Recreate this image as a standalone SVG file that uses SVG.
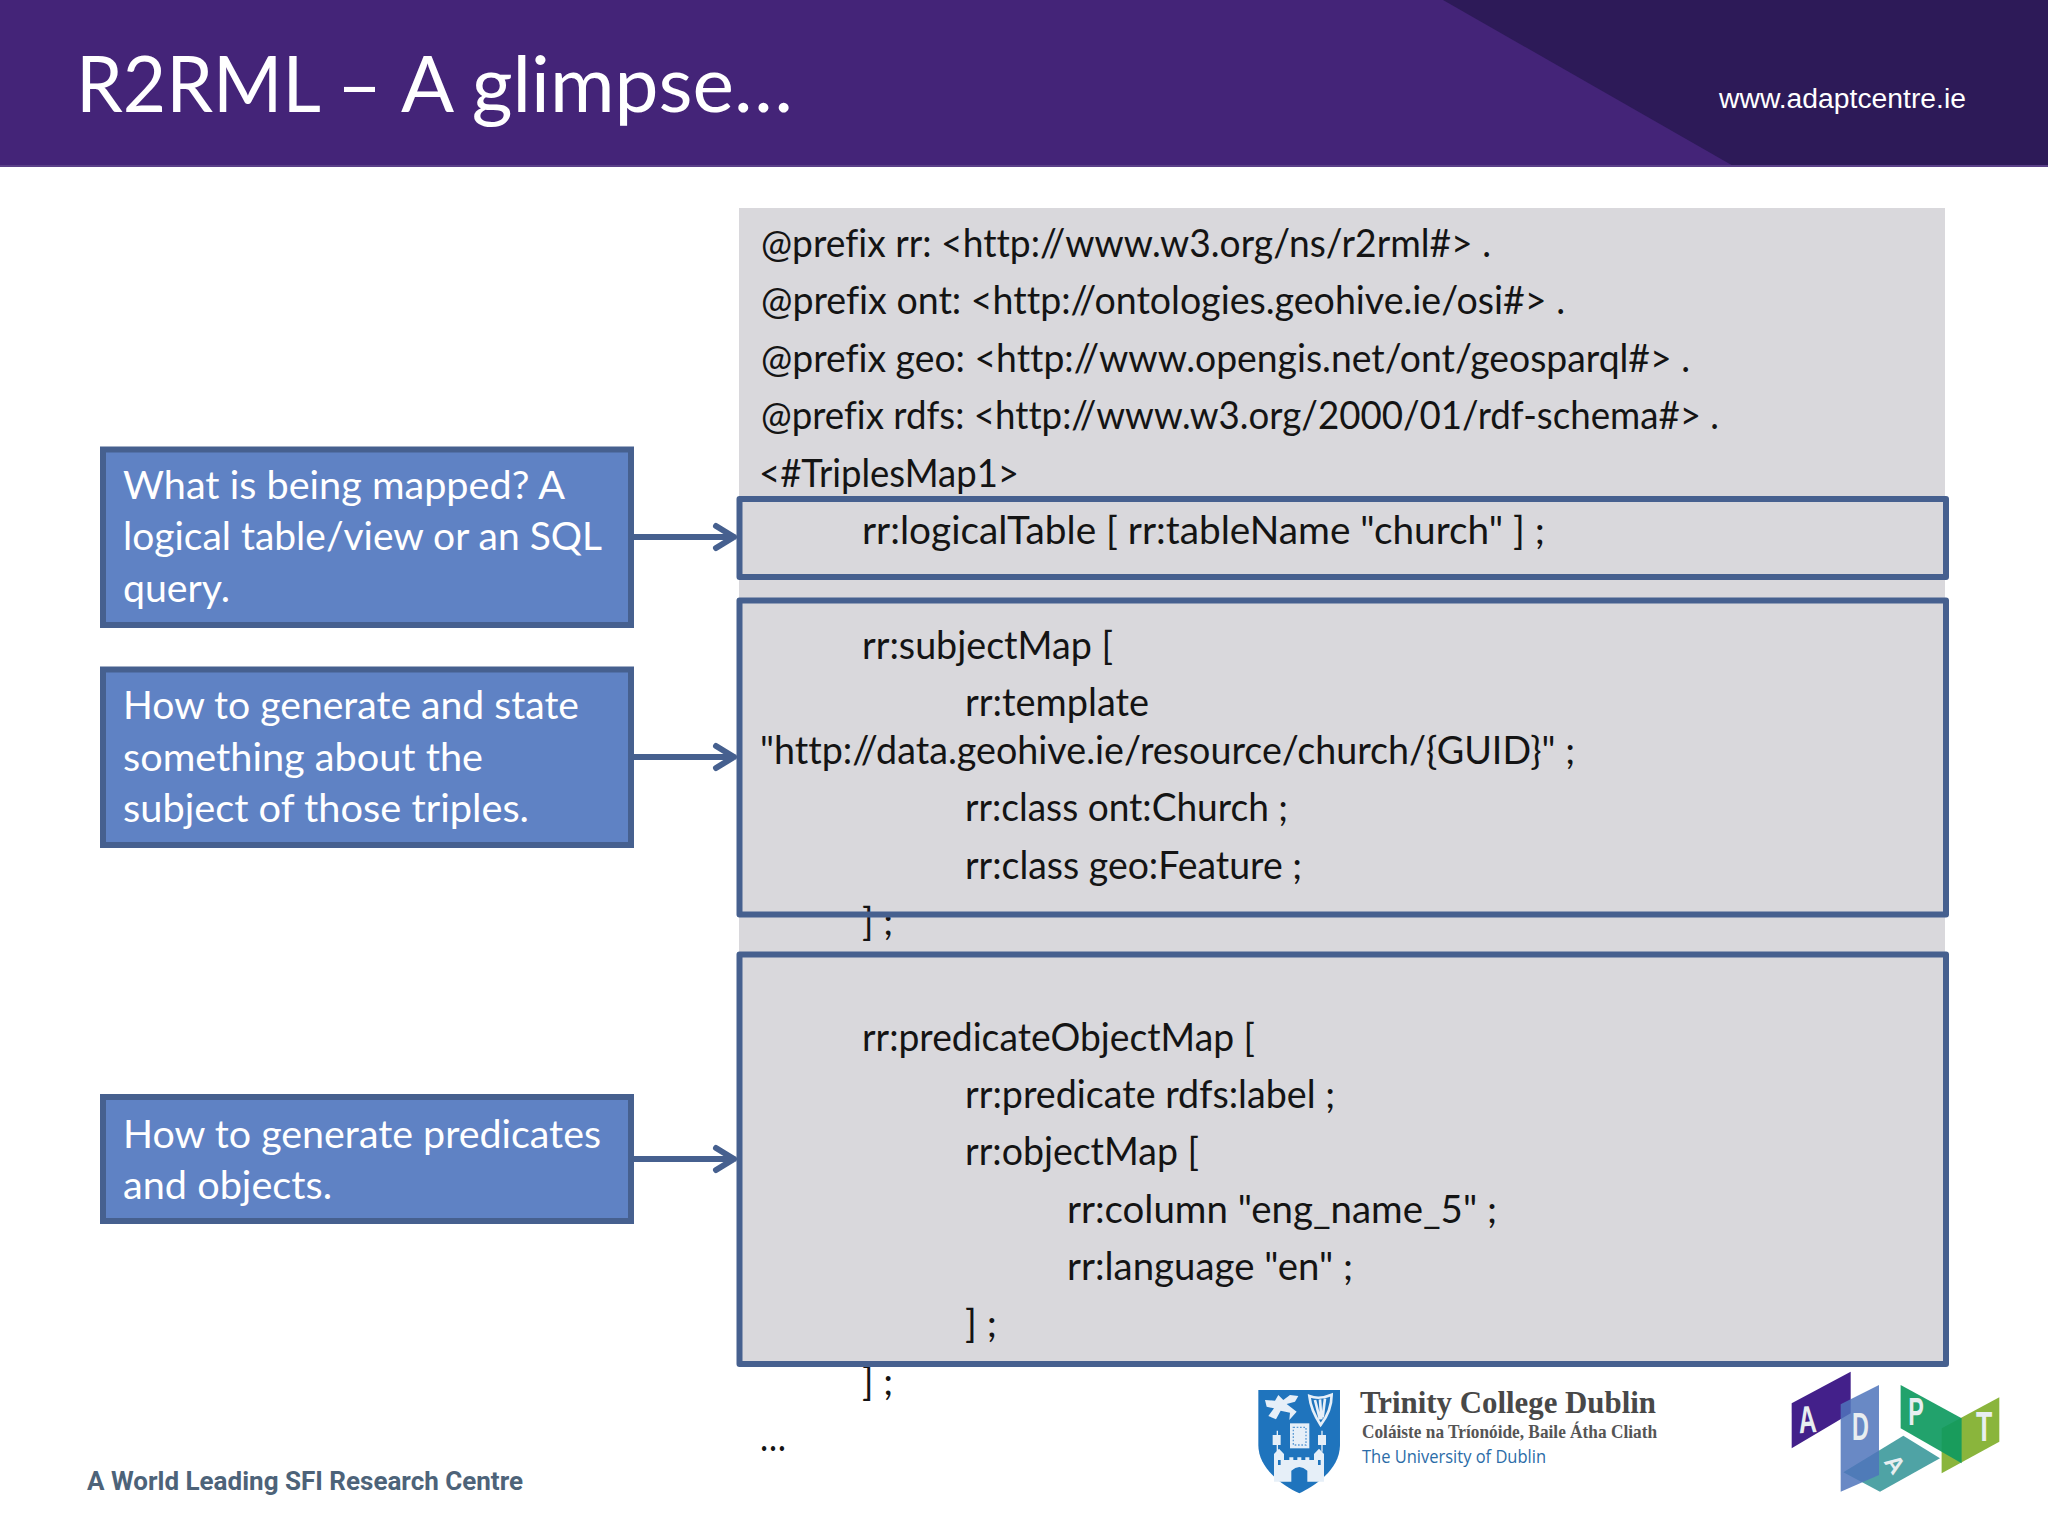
<svg xmlns="http://www.w3.org/2000/svg" width="2048" height="1536" viewBox="0 0 2048 1536">
<style>
text{font-family:"Lato","Carlito","Liberation Sans",sans-serif;font-variant-ligatures:none}
.c{font-size:39px;fill:#141414}
.b{font-size:38px;fill:#fff}
.box{fill:#5f82c4;stroke:#46608f;stroke-width:6}
.hl{fill:none;stroke:#46608f;stroke-width:6;stroke-linejoin:round}
.ar{fill:none;stroke:#46608f;stroke-width:6;stroke-linecap:round;stroke-linejoin:round}
.lg{font-family:"Liberation Sans",sans-serif;font-weight:700;fill:#e8eef0}
.w{fill:#e6eff8}
.ws{fill:none;stroke:#e6eff8}
</style>
<rect width="2048" height="1536" fill="#fff"/>
<g id="header">
<rect width="2048" height="167" fill="#442478"/>
<polygon points="1443,0 2048,0 2048,167 1735,167" fill="#2d1a58"/>
<rect y="165" width="2048" height="2" fill="#5a4088"/>
<text y="112" font-size="78" fill="#fff"><tspan x="76" textLength="245" lengthAdjust="spacingAndGlyphs">R2RML</tspan><tspan x="337" textLength="45" lengthAdjust="spacingAndGlyphs">–</tspan><tspan x="401" textLength="392" lengthAdjust="spacingAndGlyphs">A glimpse…</tspan></text>
<text x="1719" y="108" style="font-family:'Liberation Sans',sans-serif" font-size="27" fill="#fff" textLength="247" lengthAdjust="spacingAndGlyphs">www.adaptcentre.ie</text>
</g>
<g id="code">
<rect x="739" y="208" width="1206" height="1155" fill="#d9d8dc"/>
<text class="c" x="761" y="257" textLength="730" lengthAdjust="spacingAndGlyphs">@prefix rr: &lt;http://www.w3.org/ns/r2rml#&gt; .</text>
<text class="c" x="761" y="314" textLength="804" lengthAdjust="spacingAndGlyphs">@prefix ont: &lt;http://ontologies.geohive.ie/osi#&gt; .</text>
<text class="c" x="761" y="372" textLength="929" lengthAdjust="spacingAndGlyphs">@prefix geo: &lt;http://www.opengis.net/ont/geosparql#&gt; .</text>
<text class="c" x="761" y="429" textLength="958" lengthAdjust="spacingAndGlyphs">@prefix rdfs: &lt;http://www.w3.org/2000/01/rdf-schema#&gt; .</text>
<text class="c" x="759" y="487" textLength="260" lengthAdjust="spacingAndGlyphs">&lt;#TriplesMap1&gt;</text>
<text class="c" x="862" y="544" textLength="683" lengthAdjust="spacingAndGlyphs">rr:logicalTable [ rr:tableName "church"  ] ;</text>
<text class="c" x="862" y="659" textLength="251" lengthAdjust="spacingAndGlyphs">rr:subjectMap [</text>
<text class="c" x="965" y="716" textLength="184" lengthAdjust="spacingAndGlyphs">rr:template</text>
<text class="c" x="760" y="764" textLength="815" lengthAdjust="spacingAndGlyphs">"http://data.geohive.ie/resource/church/{GUID}" ;</text>
<text class="c" x="965" y="821" textLength="323" lengthAdjust="spacingAndGlyphs">rr:class ont:Church ;</text>
<text class="c" x="965" y="879" textLength="337" lengthAdjust="spacingAndGlyphs">rr:class geo:Feature ;</text>
<text class="c" x="862" y="935" textLength="31" lengthAdjust="spacingAndGlyphs">] ;</text>
<text class="c" x="862" y="1051" textLength="393" lengthAdjust="spacingAndGlyphs">rr:predicateObjectMap [</text>
<text class="c" x="965" y="1108" textLength="370" lengthAdjust="spacingAndGlyphs">rr:predicate rdfs:label ;</text>
<text class="c" x="965" y="1165" textLength="234" lengthAdjust="spacingAndGlyphs">rr:objectMap [</text>
<text class="c" x="1067" y="1223" textLength="430" lengthAdjust="spacingAndGlyphs">rr:column "eng_name_5" ;</text>
<text class="c" x="1067" y="1280" textLength="286" lengthAdjust="spacingAndGlyphs">rr:language "en" ;</text>
<text class="c" x="965" y="1337" textLength="32" lengthAdjust="spacingAndGlyphs">] ;</text>
<text class="c" x="862" y="1395" textLength="31" lengthAdjust="spacingAndGlyphs">] ;</text>
<text class="c" x="760" y="1451" textLength="26" lengthAdjust="spacingAndGlyphs">…</text>
</g>
<g id="highlight-logical-table"><rect class="hl" x="739.5" y="499" width="1206.5" height="78"/></g>
<g id="highlight-subject-map"><rect class="hl" x="739.5" y="600.5" width="1206.5" height="314"/></g>
<g id="highlight-predicate-object-map"><rect class="hl" x="739.5" y="954.5" width="1206.5" height="409.5"/></g>
<g id="node-what">
<rect class="box" x="103" y="449.5" width="528" height="175.5"/>
<text class="b" x="123" y="499" textLength="442" lengthAdjust="spacingAndGlyphs">What is being mapped? A</text>
<text class="b" x="123" y="550" textLength="479" lengthAdjust="spacingAndGlyphs">logical table/view or an SQL</text>
<text class="b" x="123" y="602" textLength="107" lengthAdjust="spacingAndGlyphs">query.</text>
</g>
<g id="node-subject">
<rect class="box" x="103" y="669.5" width="528" height="175.5"/>
<text class="b" x="123" y="719" textLength="456" lengthAdjust="spacingAndGlyphs">How to generate and state</text>
<text class="b" x="123" y="771" textLength="360" lengthAdjust="spacingAndGlyphs">something about the</text>
<text class="b" x="123" y="822" textLength="406" lengthAdjust="spacingAndGlyphs">subject of those triples.</text>
</g>
<g id="node-predicate">
<rect class="box" x="103" y="1097" width="528" height="124"/>
<text class="b" x="123" y="1148" textLength="478" lengthAdjust="spacingAndGlyphs">How to generate predicates</text>
<text class="b" x="123" y="1199" textLength="209" lengthAdjust="spacingAndGlyphs">and objects.</text>
</g>
<g id="connectors">
<path class="ar" d="M634 537H734M716 526L734 537L716 548"/>
<path class="ar" d="M634 757H734M716 746L734 757L716 768"/>
<path class="ar" d="M634 1159H734M716 1148L734 1159L716 1170"/>
</g>
<g id="footer">
<text x="87" y="1490" style="font-family:Roboto,sans-serif;font-weight:700" font-size="25" fill="#4d6379" textLength="436" lengthAdjust="spacingAndGlyphs">A World Leading SFI Research Centre</text>
</g>
<g id="tcd-logo">
<g transform="translate(1250 1380) scale(.3333)">
<path d="M25 30H270V195C270 270 190 320 148 340C105 320 25 270 25 195Z" fill="#1f74bd"/>
<path class="w" d="M45 60L75 62L85 45L100 60L120 45L145 48L135 65L110 72L140 95L118 120L120 98L92 92L78 118L55 108L72 85L50 80Z"/>
<path class="ws" stroke-width="8" d="M178 48Q208 60 245 44Q245 92 212 135Q182 90 178 48ZM195 60L210 118M210 58L214 118M225 56L218 112"/>
<path class="w" d="M120 130H178V205H120Z"/>
<path d="M130 142H168V195H130Z" fill="none" stroke="#5c9bd4" stroke-width="4" stroke-dasharray="5 5"/>
<path class="w" d="M68 165H92V195H68ZM204 165H228V195H204Z"/>
<path class="ws" stroke-width="4" d="M82 152V215M216 152V215"/>
<path class="w" d="M72 222L87 206L102 222V240H118V232H130V240H142V232H154V240H166V232H178V240H192V222L207 206L222 222V305H172V272Q148 250 124 272V305H72Z"/>
<path d="M84 240H92V255H84ZM204 240H212V255H204Z" fill="#1f74bd"/>
</g>
<text x="1360" y="1413" style="font-family:'Liberation Serif',serif;font-weight:700" font-size="31" fill="#484848" textLength="296" lengthAdjust="spacingAndGlyphs">Trinity College Dublin</text>
<text x="1362" y="1438" style="font-family:'Liberation Serif',serif;font-weight:700" font-size="19" fill="#555" textLength="295" lengthAdjust="spacingAndGlyphs">Coláiste na Tríonóide, Baile Átha Cliath</text>
<text x="1362" y="1463" style="font-family:'Open Sans',sans-serif" font-size="18" fill="#2b6ca8" textLength="184" lengthAdjust="spacingAndGlyphs">The University of Dublin</text>
</g>
<g id="adapt-logo" transform="translate(1780 1365) scale(.3333)">
<polygon points="35,115 212,20 212,145 35,250" fill="#43208a"/>
<polygon points="190,322 370,212 480,280 300,380" fill="#4fa3a5"/>
<polygon points="182,118 297,60 297,330 182,380" fill="#4f74bb" opacity=".85"/>
<polygon points="485,190 658,97 658,230 485,325" fill="#8ab53c"/>
<polygon points="362,60 545,160 545,295 362,190" fill="#0f9a60" opacity=".92"/>
<text class="lg" transform="translate(58 205) rotate(-4) scale(.75 1.15)" font-size="100">A</text>
<text class="lg" transform="translate(216 226) scale(.7 1.15)" font-size="100">D</text>
<text class="lg" transform="translate(385 180) scale(.7 1.15)" font-size="100">P</text>
<text class="lg" transform="translate(588 228) scale(.8 1.3)" font-size="100">T</text>
<text class="lg" transform="translate(310 290) rotate(55) scale(.9 .9)" font-size="80">A</text>
</g>
</svg>
